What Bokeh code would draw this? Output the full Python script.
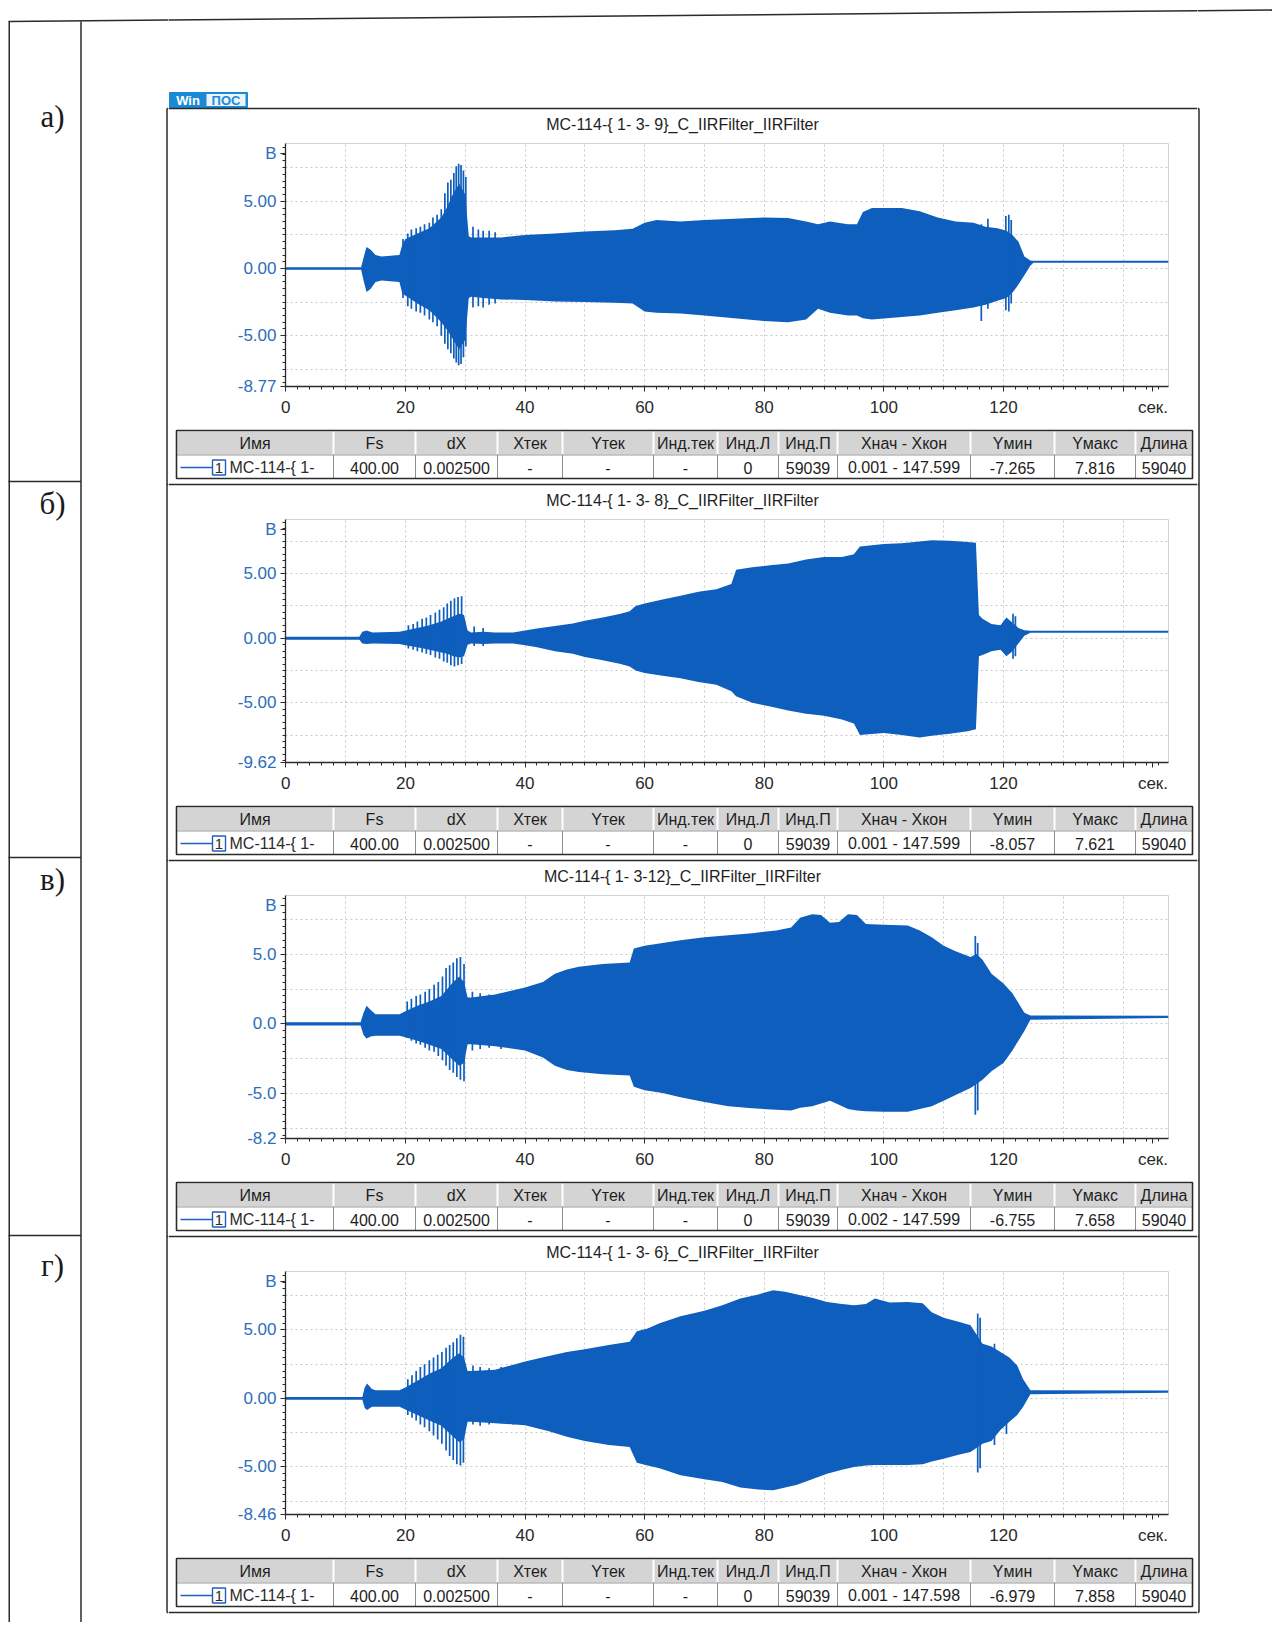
import numpy as np
from bokeh.plotting import figure
from bokeh.models import Range1d, FixedTicker
from bokeh.layouts import row, column
from bokeh.embed import file_html
from bokeh.resources import INLINE
from bokeh.core.properties import value

# ----------------------------------------------------------------- data
panel_labels = ["а)", "б)", "в)", "г)"]
chart_titles = ["MC-114-{ 1- 3- 9}_C_IIRFilter_IIRFilter",
                "MC-114-{ 1- 3- 8}_C_IIRFilter_IIRFilter",
                "MC-114-{ 1- 3-12}_C_IIRFilter_IIRFilter",
                "MC-114-{ 1- 3- 6}_C_IIRFilter_IIRFilter"]
y_lows = [-8.77, -9.62, -8.2, -8.46]
y_highs = [9.3, 9.2, 9.2, 9.27]
y_low_text = ["-8.77", "-9.62", "-8.2", "-8.46"]
y_tick_values = [-5, 0, 5]
y_tick_text = [["-5.00", "0.00", "5.00"], ["-5.00", "0.00", "5.00"],
               ["-5.0", "0.0", "5.0"], ["-5.00", "0.00", "5.00"]]
y_unit = "B"
x_tick_values = [0, 20, 40, 60, 80, 100, 120, 140]
x_tick_text = ["0", "20", "40", "60", "80", "100", "120", ""]
x_unit = "сек."
x_unit_pos = 145.0
x_end = 147.6

table_header = ["Имя", "Fs", "dX", "Xтек", "Yтек", "Инд.тек", "Инд.Л", "Инд.П",
                "Xнач - Xкон", "Yмин", "Yмакс", "Длина"]
channel_num = "1"
channel_name = "MC-114-{ 1-"
row_a = ["400.00", "0.002500", "-", "-", "-", "0", "59039", "0.001 - 147.599", "-7.265", "7.816", "59040"]
row_b = ["400.00", "0.002500", "-", "-", "-", "0", "59039", "0.001 - 147.599", "-8.057", "7.621", "59040"]
row_c = ["400.00", "0.002500", "-", "-", "-", "0", "59039", "0.002 - 147.599", "-6.755", "7.658", "59040"]
row_d = ["400.00", "0.002500", "-", "-", "-", "0", "59039", "0.001 - 147.598", "-6.979", "7.858", "59040"]
table_rows = [row_a, row_b, row_c, row_d]

# envelopes (time in s, upper / lower in V)
t_a = [0, 12.6, 13.0, 13.5, 14.2, 15.0, 16.0, 19.0, 19.5, 20.0, 22.0, 24.0, 26.0, 27.0, 28.0, 29.0, 30.0, 30.6, 31.0, 33.0,
       36.0, 40.0, 45.0, 50.0, 55.0, 58.0, 60.0, 62.0, 66.0, 70.0, 75.0, 80.0, 84.0, 87.0, 89.0, 91.0, 94.0, 95.5, 96.5, 98.0,
       103.0, 106.0, 109.0, 112.0, 115.0, 117.0, 119.0, 120.5, 121.5, 122.5, 123.5, 124.5, 125.0, 147.6]
up_a = [0.1, 0.1, 0.8, 1.6, 1.4, 1.0, 0.9, 1.0, 1.8, 2.2, 2.6, 3.0, 3.8, 4.6, 5.6, 6.3, 5.5, 2.4, 2.3, 2.3,
        2.3, 2.5, 2.6, 2.75, 2.85, 2.95, 3.4, 3.6, 3.5, 3.6, 3.7, 3.8, 3.75, 3.5, 3.3, 3.5, 3.3, 3.3, 4.2, 4.5,
        4.5, 4.25, 3.8, 3.5, 3.4, 3.1, 3.0, 2.8, 2.5, 2.0, 0.9, 0.6, 0.58, 0.58]
lo_a = [-0.1, -0.1, -0.9, -1.75, -1.5, -1.0, -0.9, -1.0, -1.9, -2.0, -2.6, -3.1, -4.0, -4.6, -5.3, -6.0, -5.3, -2.2, -2.1, -2.2,
        -2.3, -2.35, -2.45, -2.5, -2.55, -2.6, -3.2, -3.3, -3.35, -3.5, -3.7, -3.9, -4.0, -3.8, -3.0, -3.3, -3.5, -3.5, -3.7, -3.8,
        -3.6, -3.5, -3.3, -3.1, -2.9, -2.7, -2.4, -2.2, -1.8, -1.2, -0.5, 0.2, 0.42, 0.42]
spike_t_a = [19.6, 20.4, 21.0, 21.8, 22.5, 23.2, 24.0, 24.6, 25.3, 26.0, 26.6, 27.1, 27.6, 28.1, 28.5, 28.9, 29.3, 29.7, 30.1,
             31.3, 32.2, 33.0, 34.0, 35.0, 116.3, 117.4, 120.4, 120.9, 121.3]
spike_hi_a = [2.2, 2.6, 2.9, 3.0, 3.1, 3.3, 3.4, 3.8, 4.0, 4.4, 5.6, 6.4, 6.6, 7.1, 7.6, 7.8, 7.7, 7.3, 6.8,
              3.1, 2.9, 2.8, 2.8, 2.7, 3.3, 3.7, 3.9, 4.0, 3.6]
spike_lo_a = [-2.2, -2.8, -3.0, -3.2, -3.3, -3.5, -3.8, -4.0, -4.3, -5.0, -5.6, -6.0, -6.3, -6.7, -7.0, -7.2, -7.1, -6.6, -5.8,
              -2.9, -2.8, -2.9, -2.7, -2.6, -3.9, -3.0, -3.1, -3.2, -2.6]

t_b = [0, 12.3, 12.8, 13.5, 14.5, 19.0, 20.0, 22.0, 24.0, 26.0, 27.0, 28.0, 29.0, 29.8, 30.4, 31.0, 33.0, 35.0, 38.0, 40.0,
       42.0, 45.0, 48.0, 50.0, 53.0, 56.0, 57.5, 58.5, 60.0, 63.0, 66.0, 69.0, 72.0, 74.5, 75.3, 78.0, 81.0, 84.0, 87.0, 90.0,
       93.0, 95.0, 96.0, 100.0, 103.0, 106.0, 108.0, 111.0, 114.0, 115.4, 115.9, 116.5, 118.0, 119.5, 120.5, 121.5, 122.5,
       123.5, 124.5, 147.6]
up_b = [0.12, 0.12, 0.5, 0.6, 0.45, 0.5, 0.6, 0.8, 1.0, 1.3, 1.5, 1.7, 1.9, 1.8, 0.6, 0.45, 0.5, 0.45, 0.45, 0.6,
        0.75, 0.95, 1.15, 1.35, 1.6, 1.9, 2.1, 2.5, 2.7, 3.0, 3.3, 3.6, 3.8, 4.2, 5.3, 5.5, 5.65, 5.8, 6.1, 6.3,
        6.3, 6.5, 7.1, 7.3, 7.35, 7.5, 7.6, 7.55, 7.45, 7.4, 1.8, 1.5, 1.1, 1.0, 1.6, 1.2, 0.8, 0.62, 0.58, 0.58]
lo_b = [-0.12, -0.12, -0.4, -0.45, -0.4, -0.45, -0.55, -0.7, -0.9, -1.1, -1.2, -1.4, -1.5, -1.4, -0.5, -0.4, -0.45, -0.4, -0.4,
        -0.55, -0.7, -1.0, -1.2, -1.45, -1.7, -2.0, -2.2, -2.5, -2.7, -2.9, -3.1, -3.4, -3.6, -4.1, -4.5, -5.0, -5.3, -5.6,
        -5.85, -6.0, -6.3, -6.6, -7.5, -7.35, -7.5, -7.7, -7.55, -7.4, -7.2, -7.05, -1.4, -1.3, -1.0, -0.9, -1.4, -1.0, -0.4,
        0.2, 0.42, 0.42]
spike_t_b = [20.5, 21.3, 22.0, 22.8, 23.5, 24.2, 25.0, 25.7, 26.4, 27.0, 27.6, 28.2, 28.8, 29.4, 31.5, 33.0, 121.6, 122.0]
spike_hi_b = [1.0, 1.1, 1.3, 1.5, 1.6, 1.8, 2.0, 2.2, 2.4, 2.7, 2.9, 3.1, 3.2, 3.25, 0.9, 0.8, 1.9, 1.7]
spike_lo_b = [-0.8, -0.9, -1.0, -1.1, -1.2, -1.3, -1.5, -1.6, -1.8, -1.9, -2.1, -2.2, -2.1, -2.0, -0.6, -0.6, -1.6, -1.4]

t_c = [0, 12.5, 13.0, 13.5, 14.2, 15.0, 19.0, 20.0, 22.0, 24.0, 26.0, 27.0, 28.0, 29.0, 29.8, 30.4, 31.0, 35.0, 40.0, 43.0,
       45.0, 47.0, 49.0, 53.0, 57.5, 58.2, 60.0, 63.0, 66.0, 70.0, 74.0, 78.0, 82.0, 84.5, 86.0, 88.0, 89.5, 91.0, 92.5, 94.0,
       95.5, 97.0, 100.0, 104.0, 106.0, 108.0, 110.0, 112.0, 114.5, 115.5, 116.5, 118.0, 120.0, 121.5, 122.5, 123.5, 124.5, 147.6]
up_c = [0.12, 0.12, 0.8, 1.3, 1.0, 0.7, 0.7, 0.9, 1.3, 1.6, 2.0, 2.5, 3.0, 3.4, 3.0, 1.9, 1.9, 2.1, 2.6, 3.0,
        3.6, 3.9, 4.1, 4.3, 4.4, 5.4, 5.6, 5.8, 6.0, 6.2, 6.35, 6.5, 6.7, 6.9, 7.6, 7.85, 7.8, 7.25, 7.3, 7.85,
        7.8, 7.15, 7.1, 7.05, 6.7, 6.2, 5.6, 5.2, 4.8, 5.0, 4.6, 3.6, 2.9, 2.2, 1.5, 0.8, 0.6, 0.58]
lo_c = [-0.12, -0.12, -0.8, -1.05, -0.9, -0.85, -0.85, -0.95, -1.2, -1.5, -1.8, -2.2, -2.6, -3.0, -2.8, -1.45, -1.45, -1.6,
        -1.9, -2.4, -3.0, -3.3, -3.45, -3.6, -3.7, -4.5, -4.75, -4.95, -5.25, -5.6, -5.9, -6.05, -6.15, -6.2, -6.0, -5.9,
        -5.7, -5.5, -5.8, -6.1, -6.2, -6.25, -6.3, -6.3, -6.1, -5.9, -5.5, -5.1, -4.6, -4.3, -4.0, -3.4, -2.8, -1.9, -1.2,
        -0.5, 0.3, 0.42]
spike_t_c = [20.3, 21.0, 21.8, 22.5, 23.3, 24.0, 24.8, 25.5, 26.2, 26.8, 27.4, 28.0, 28.6, 29.2, 29.8, 31.2, 32.5, 34.0, 36.0,
             115.3, 115.7]
spike_hi_c = [1.6, 1.8, 2.0, 2.1, 2.3, 2.5, 2.8, 3.0, 3.4, 4.0, 4.2, 4.4, 4.7, 4.8, 4.3, 2.3, 2.2, 2.1, 2.2, 6.3, 5.8]
spike_lo_c = [-1.0, -1.2, -1.4, -1.5, -1.7, -1.9, -2.0, -2.3, -2.6, -3.0, -3.3, -3.5, -3.8, -4.0, -4.1, -1.9, -1.8, -1.7,
              -1.8, -6.5, -6.2]

t_d = [0, 12.8, 13.2, 13.6, 14.4, 15.0, 19.0, 20.0, 22.0, 24.0, 26.0, 27.0, 28.0, 29.0, 29.8, 30.4, 31.0, 35.0, 40.0, 44.0,
       47.0, 50.0, 54.0, 57.5, 58.7, 60.5, 62.5, 66.0, 70.0, 73.0, 76.0, 79.0, 81.5, 83.5, 85.5, 88.0, 90.5, 93.0, 95.0, 97.0,
       98.5, 101.0, 104.0, 106.5, 108.0, 110.0, 112.5, 114.5, 116.5, 118.0, 119.5, 121.0, 122.3, 123.3, 124.5, 147.6]
up_d = [0.1, 0.1, 0.8, 1.1, 0.7, 0.6, 0.6, 0.8, 1.3, 1.8, 2.2, 2.6, 3.0, 3.3, 3.0, 2.0, 2.0, 2.1, 2.7, 3.1,
        3.4, 3.6, 3.9, 4.15, 4.9, 5.1, 5.5, 6.0, 6.4, 6.8, 7.3, 7.6, 7.9, 7.8, 7.6, 7.35, 7.05, 6.9, 6.8, 6.9,
        7.3, 7.0, 7.05, 6.95, 6.3, 5.9, 5.6, 5.35, 4.0, 3.8, 3.4, 3.0, 2.4, 1.4, 0.6, 0.58]
lo_d = [-0.1, -0.1, -0.7, -0.85, -0.6, -0.6, -0.6, -0.8, -1.2, -1.6, -2.0, -2.4, -2.8, -3.2, -3.0, -1.7, -1.7, -1.8, -1.95,
        -2.4, -2.8, -3.1, -3.4, -3.55, -4.7, -4.9, -5.1, -5.6, -5.9, -6.1, -6.5, -6.65, -6.7, -6.5, -6.3, -5.9, -5.5, -5.2,
        -5.0, -4.9, -4.85, -4.85, -4.85, -4.8, -4.6, -4.4, -4.1, -3.9, -3.3, -3.1, -2.3, -1.7, -1.2, -0.6, 0.3, 0.42]
spike_t_d = [20.4, 21.1, 21.8, 22.5, 23.2, 24.0, 24.7, 25.4, 26.1, 26.8, 27.4, 28.0, 28.6, 29.2, 29.7, 31.3, 32.5, 34.0, 36.0,
             38.0, 115.7, 116.1, 118.5, 120.5]
spike_hi_d = [1.4, 1.7, 2.0, 2.3, 2.5, 2.8, 3.0, 3.2, 3.4, 3.7, 3.9, 4.1, 4.4, 4.65, 4.5, 2.4, 2.3, 2.2, 2.3, 2.4, 6.2, 5.9,
              4.0, 3.0]
spike_lo_d = [-1.2, -1.4, -1.6, -1.9, -2.1, -2.4, -2.7, -3.0, -3.3, -3.8, -4.2, -4.5, -4.8, -4.9, -4.7, -1.9, -2.0, -1.9,
              -1.8, -1.9, -5.4, -5.1, -3.4, -2.6]

waves = [(t_a, up_a, lo_a, spike_t_a, spike_hi_a, spike_lo_a),
         (t_b, up_b, lo_b, spike_t_b, spike_hi_b, spike_lo_b),
         (t_c, up_c, lo_c, spike_t_c, spike_hi_c, spike_lo_c),
         (t_d, up_d, lo_d, spike_t_d, spike_hi_d, spike_lo_d)]

# ----------------------------------------------------------------- layout / style
INK = "#2b2b2b"
WAVE = "#0e5ebd"
YLAB = "#2c6dbd"
SANS = "Liberation Sans"
SERIF = "Liberation Serif"

FT = [143, 519, 895, 1271]          # page y of each plot frame top
FH = 243                            # frame height
CB = 34                             # space under frame for x tick labels
ROW_H = FH + CB
PAGE_TOP, PAGE_BOT = 0, 1622
X_LEFT, X_MID, X_CHART_R, X_RIGHT = 0, 168, 1197, 1272
BOX_L, BOX_R = 166.5, 1198.5
COLS = [176, 333, 415, 497, 562, 653, 717, 778, 837, 970, 1054, 1135, 1192]


def deco(x0, x1, y0, y1):
    p = figure(width=x1 - x0, height=y1 - y0, x_range=Range1d(x0, x1), y_range=Range1d(y1, y0),
               output_backend="svg", toolbar_location=None, title=None,
               x_axis_location=None, y_axis_location=None,
               min_border_left=0, min_border_right=0, min_border_top=0, min_border_bottom=0,
               outline_line_color=None, background_fill_color="white", border_fill_color="white")
    for g in p.grid:
        g.visible = False
    return p


def txt(p, xs, ys, texts, size="16px", color=INK, align="center", font=SANS, style="normal"):
    p.text(x=xs, y=ys, text=texts, text_font=value(font), text_font_size=size, text_color=color,
           text_align=align, text_baseline="middle", text_font_style=style)


def segs(p, x0, y0, x1, y1, color=INK, w=1.5):
    p.segment(x0=x0, y0=y0, x1=x1, y1=y1, line_color=color, line_width=w)


def top_line(p):
    segs(p, [8], [21], [1275], [9.5], w=1.5)


def draw_table(p, top, vals):
    hh = 24
    b = COLS
    n = len(table_header)
    p.quad(left=[b[j] + 1 for j in range(n)], right=[b[j + 1] - 1 for j in range(n)],
           top=[top + 1] * n, bottom=[top + hh] * n, fill_color="#d4d4d4", line_color=None)
    segs(p, b[1:-1], [top + hh] * (n - 1), b[1:-1], [top + 2 * hh] * (n - 1), color="#8f8f8f", w=1)
    segs(p, [b[0]], [top + hh + 0.5], [b[-1]], [top + hh + 0.5], color="#9a9a9a", w=1)
    p.quad(left=[b[0]], right=[b[-1]], top=[top], bottom=[top + 2 * hh], fill_color=None,
           line_color=INK, line_width=1.6)
    cx = [(b[j] + b[j + 1]) / 2 for j in range(n)]
    txt(p, cx, [top + hh / 2 + 1] * n, table_header, size="16px", color="#1e1e1e")
    ym = top + 1.5 * hh + 1
    segs(p, [b[0] + 4], [ym], [b[0] + 36], [ym], color="#1f5fbf", w=1.5)
    p.quad(left=[b[0] + 36], right=[b[0] + 49], top=[ym - 7.5], bottom=[ym + 7.5], fill_color="white",
           line_color="#1f5fbf", line_width=1.4)
    txt(p, [b[0] + 42.5], [ym], [channel_num], size="15px")
    txt(p, [b[0] + 53], [ym], [channel_name], size="16px", align="left")
    txt(p, cx[1:], [ym] * (n - 1), vals, size="16px", color="#1e1e1e")


def chart(i):
    lo_y, hi_y = y_lows[i], y_highs[i]
    p = figure(width=X_CHART_R - X_MID, height=ROW_H, x_range=Range1d(-0.05, x_end),
               y_range=Range1d(lo_y - 0.01, hi_y), output_backend="svg", toolbar_location=None, title=None,
               min_border_left=285 - X_MID, min_border_right=X_CHART_R - 1168, min_border_top=0,
               min_border_bottom=CB, outline_line_color="#d2d2d2",
               background_fill_color="white", border_fill_color="white")
    t, up, lo, st, sh, sl = waves[i]
    p.varea(x=t, y1=lo, y2=up, fill_color=WAVE, fill_alpha=1.0)
    p.segment(x0=st, y0=sl, x1=st, y1=sh, line_color=WAVE, line_width=1.7)

    # axes
    xo = dict(zip(x_tick_values, x_tick_text))
    xo[x_unit_pos] = x_unit
    p.xaxis.ticker = FixedTicker(ticks=x_tick_values + [x_unit_pos], minor_ticks=list(range(0, 148, 2)))
    p.xaxis.major_label_overrides = xo
    b_pos = round(hi_y - 0.75, 2)
    yo = {lo_y: y_low_text[i], b_pos: y_unit}
    yo.update(dict(zip(y_tick_values, y_tick_text[i])))
    minors = [k * 0.5 for k in range(int(np.ceil(lo_y * 2)), int(np.floor(hi_y * 2)) + 1)]
    p.yaxis.ticker = FixedTicker(ticks=[lo_y] + y_tick_values + [b_pos], minor_ticks=minors)
    p.yaxis.major_label_overrides = yo
    for ax in (p.xaxis, p.yaxis):
        ax.axis_line_color = INK
        ax.axis_line_width = 1.3
        ax.major_tick_line_color = INK
        ax.minor_tick_line_color = INK
        ax.major_tick_out = 5
        ax.major_tick_in = 0
        ax.minor_tick_out = 3
        ax.minor_tick_in = 0
        ax.major_label_text_font = SANS
        ax.major_label_text_font_size = "17px"
    p.xaxis.major_label_text_color = "#2a2a2a"
    p.xaxis.major_label_standoff = 6
    p.yaxis.major_label_text_color = YLAB
    p.yaxis.major_label_standoff = 4

    p.xgrid.ticker = FixedTicker(ticks=list(range(10, 150, 10)))
    p.ygrid.ticker = FixedTicker(ticks=[-7.5, -5, -2.5, 0, 2.5, 5, 7.5])
    p.grid.grid_line_color = "#c8c8c8"
    p.grid.grid_line_dash = "2 3"
    p.grid.grid_line_width = 1
    return p


box_tops = [f - 35 for f in FT] + [FT[-1] + FH + 98]

# ---- left column of the document table
left = deco(X_LEFT, X_MID, PAGE_TOP, PAGE_BOT)
top_line(left)
segs(left, [8.75, 80.5], [21, 21], [8.75, 80.5], [PAGE_BOT, PAGE_BOT])
segs(left, [8] * 3, [481, 857, 1235], [80.5] * 3, [481, 857, 1235])
txt(left, [52] * 4, [116, 503, 879, 1265], panel_labels, size="31px", font=SERIF, color="#1a1a1a")
segs(left, [BOX_L], [box_tops[0]], [BOX_L], [box_tops[-1]])
segs(left, [BOX_L] * 5, box_tops, [X_MID] * 5, box_tops)

# ---- right strip (top rule and right edge of the chart boxes)
right = deco(X_CHART_R, X_RIGHT, PAGE_TOP, PAGE_BOT)
top_line(right)
segs(right, [BOX_R], [box_tops[0]], [BOX_R], [box_tops[-1]])
segs(right, [X_CHART_R] * 5, box_tops, [BOX_R] * 5, box_tops)

# ---- middle column
parts = []
g0 = deco(X_MID, X_CHART_R, PAGE_TOP, FT[0])
top_line(g0)
g0.quad(left=[169], right=[247], top=[92], bottom=[107], fill_color="#1b8ad6", line_color="#1b8ad6")
g0.quad(left=[206], right=[245], top=[93.5], bottom=[105.5], fill_color="#eaf4fc", line_color=None)
txt(g0, [187.5], [100], ["Win"], size="13px", color="white", style="bold")
txt(g0, [225.5], [100], ["ПОС"], size="13px", color="#1b8ad6", style="bold")
segs(g0, [X_MID], [box_tops[0]], [X_CHART_R], [box_tops[0]])
txt(g0, [682], [FT[0] - 19], [chart_titles[0]], size="16px", color="#1e1e1e")
parts.append(g0)

for i in range(4):
    parts.append(row(chart(i)))
    y0 = FT[i] + ROW_H
    y1 = FT[i + 1] if i < 3 else PAGE_BOT
    g = deco(X_MID, X_CHART_R, y0, y1)
    fb = FT[i] + FH
    draw_table(g, fb + 44, table_rows[i])
    yb = box_tops[i + 1]
    segs(g, [X_MID], [yb], [X_CHART_R], [yb])
    if i < 3:
        txt(g, [682], [FT[i + 1] - 19], [chart_titles[i + 1]], size="16px", color="#1e1e1e")
    parts.append(g)

page = row(left, column(*parts), right)
open("out.html", "w").write(file_html(page, INLINE, title="WinПОС"))
